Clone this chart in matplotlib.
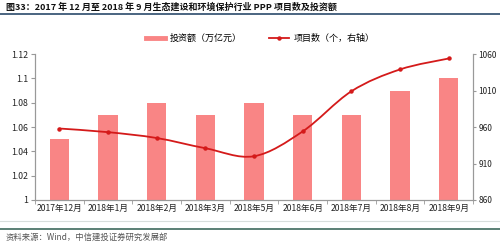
import matplotlib.pyplot as plt
from matplotlib.path import Path
from matplotlib.patches import PathPatch
from matplotlib.lines import Line2D
import numpy as np

plt.rcParams['font.family'] = ['Noto Sans CJK SC', 'DejaVu Sans']

months = ['2017年12月', '2018年1月', '2018年2月', '2018年3月', '2018年5月',
          '2018年6月', '2018年7月', '2018年8月', '2018年9月']
invest = [1.05, 1.07, 1.08, 1.07, 1.08, 1.07, 1.07, 1.09, 1.10]
projects = [958, 953, 945, 931, 920, 954, 1009, 1039, 1054]

bar_color = '#F98585'
line_color = '#D41A1A'

fig = plt.figure(figsize=(5, 2.46), dpi=100)
ax = fig.add_axes([0.07, 0.187, 0.876, 0.593])
ax2 = ax.twinx()

x = np.arange(len(months))
ax.bar(x, invest, width=0.4, color=bar_color, zorder=2)
ax.set_ylim(1, 1.12)
ax.set_yticks([1, 1.02, 1.04, 1.06, 1.08, 1.1, 1.12])
ax.set_yticklabels(['1', '1.02', '1.04', '1.06', '1.08', '1.1', '1.12'])
ax.set_xlim(-0.5, len(months) - 0.5)
ax.set_xticks(x)
ax.set_xticklabels(months)
ax.set_xticks(np.arange(-0.5, len(months)), minor=True)
ax.tick_params(axis='x', which='major', length=0, labelsize=6.2, pad=3, colors='#222222')
ax.tick_params(axis='x', which='minor', length=3, color='#999999')
ax.tick_params(axis='y', length=3, labelsize=6.3, pad=2, color='#999999', colors='#222222')

# smoothed line (Catmull-Rom style bezier through the data points)
pts = np.column_stack([x, projects]).astype(float)
verts = [tuple(pts[0])]
codes = [Path.MOVETO]
n = len(pts)
for i in range(n - 1):
    p0 = pts[max(i - 1, 0)]
    p1 = pts[i]
    p2 = pts[i + 1]
    p3 = pts[min(i + 2, n - 1)]
    c1 = p1 + (p2 - p0) / 6
    c2 = p2 - (p3 - p1) / 6
    verts += [tuple(c1), tuple(c2), tuple(p2)]
    codes += [Path.CURVE4] * 3
ax2.add_patch(PathPatch(Path(verts, codes), fill=False, edgecolor=line_color, lw=1.3, zorder=3))
ax2.plot(x, projects, ls='none', marker='o', ms=2.2, color=line_color, zorder=4)
ax2.set_ylim(860, 1060)
ax2.set_yticks([860, 910, 960, 1010, 1060])
ax2.tick_params(axis='y', length=2.5, labelsize=6.0, pad=1.5, color='#999999', colors='#222222')

for a in (ax, ax2):
    a.spines['top'].set_visible(False)
    for s in ('left', 'right', 'bottom'):
        a.spines[s].set_color('#999999')
        a.spines[s].set_linewidth(0.8)

handles = [Line2D([], [], color=bar_color, lw=3.5),
           Line2D([], [], color=line_color, lw=1.3, marker='o', ms=2.2)]
fig.legend(handles, ['投资额（万亿元）', '项目数（个，右轴）'], loc='center',
           bbox_to_anchor=(0.52, 0.845), ncol=2, frameon=False, fontsize=6.5,
           handlelength=2.2, columnspacing=3, handletextpad=0.5)

fig.text(0.012, 0.972, '图33：2017 年 12 月至 2018 年 9 月生态建设和环境保护行业 PPP 项目数及投资额',
         fontsize=6.5, fontweight='bold', va='center', ha='left', color='#111111')
fig.add_artist(Line2D([0, 1], [0.945, 0.945], color='#2B4A6B', lw=1.2))
fig.add_artist(Line2D([0, 1], [0.103, 0.103], color='#D8DEDC', lw=0.8))
fig.add_artist(Line2D([0, 1], [0.068, 0.068], color='#3E6B5E', lw=1.2))
fig.text(0.012, 0.035, '资料来源：Wind，中信建投证券研究发展部', fontsize=6, style='italic',
         color='#555555', va='center', ha='left')

fig.savefig('out.png', dpi=100)
